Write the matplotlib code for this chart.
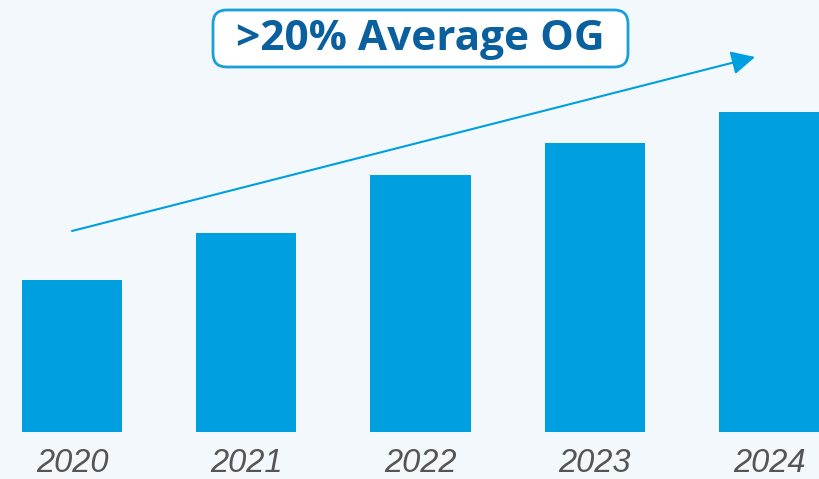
import matplotlib
matplotlib.use("Agg")
import matplotlib.pyplot as plt
from matplotlib.patches import FancyBboxPatch

years = ["2020", "2021", "2022", "2023", "2024"]
values = [152, 199, 257, 289, 320]
title_text = ">20% Average OG"

BG = "#F2F8FC"
BAR = "#009FDF"
TITLE_C = "#0A5F9E"
LABEL_C = "#555555"

W, H = 820, 479
fig = plt.figure(figsize=(W / 100, H / 100), dpi=100, facecolor=BG)
ax = fig.add_axes([0, 1 - 432 / H, 1, 432 / H])
ax.set_facecolor(BG)
x = list(range(len(years)))
ax.bar(x, values, width=0.574, color=BAR)
step = 174.25
ax.set_xlim(-72 / step, (W - 72) / step)
ax.set_ylim(0, 432)
ax.axis("off")

for xi, y in zip(x, years):
    fig.text((72 + xi * step) / W, 1 - 464 / H, y, ha="center", va="center",
             fontsize=23.5, style="italic", color=LABEL_C, family=["Liberation Sans", "DejaVu Sans"])

ax.annotate("", xy=(3.92, 375), xytext=(0.0, 201),
            arrowprops=dict(arrowstyle="-|>,head_length=0.9,head_width=0.45",
                            color=BAR, lw=1.5, mutation_scale=16, shrinkA=0, shrinkB=0))

# title box (figure pixel coords converted to fractions)
bx0, by0, bx1, by1 = 213, 10, 628, 67
r = 8
box = FancyBboxPatch((bx0 / W, 1 - by1 / H), (bx1 - bx0) / W, (by1 - by0) / H,
                     boxstyle="round,pad=0,rounding_size=%f" % (r / H),
                     transform=fig.transFigure, fc="white", ec="#1A9FDB", lw=2,
                     mutation_aspect=W / H)
fig.add_artist(box)
fig.text(420 / W, 1 - 39 / H, title_text, ha="center", va="center",
         fontsize=30.5, fontweight="bold", color=TITLE_C, family=["Open Sans", "DejaVu Sans"])

fig.savefig("out.png", dpi=100, facecolor=BG)
